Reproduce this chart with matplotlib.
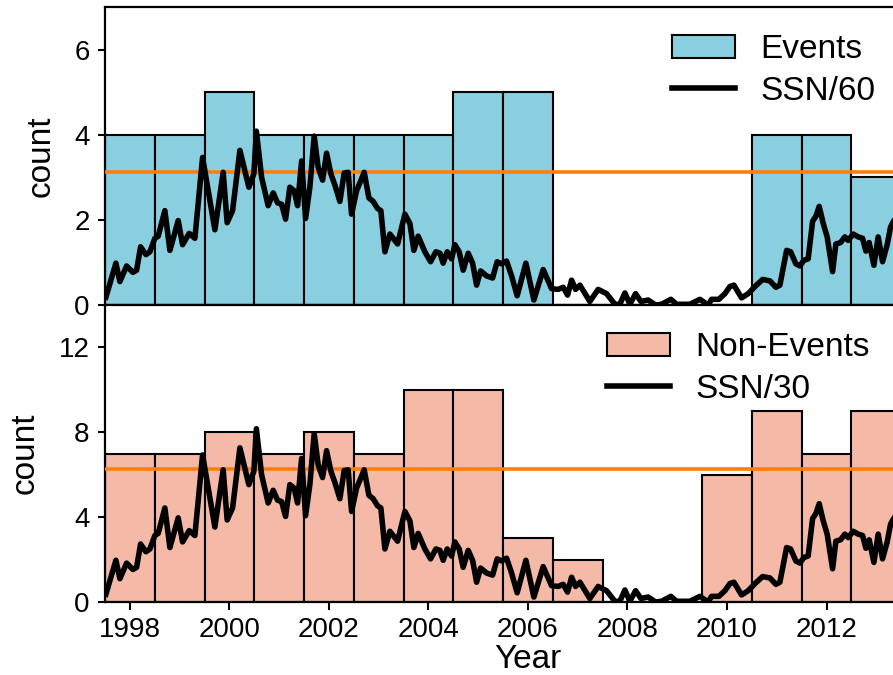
import numpy as np
import matplotlib
matplotlib.use("Agg")
import matplotlib.pyplot as plt

plt.rcParams['font.family'] = ['Liberation Sans', 'DejaVu Sans']

# Yearly counts
years = [1998, 1999, 2000, 2001, 2002, 2003, 2004, 2005, 2006, 2007,
         2008, 2009, 2010, 2011, 2012, 2013]
events = [4, 4, 5, 4, 4, 4, 4, 5, 5, 0, 0, 0, 0, 4, 4, 3]
non_events = [7, 7, 8, 7, 8, 7, 10, 10, 3, 2, 0, 0, 6, 9, 7, 9]

# Monthly sunspot number (time in decimal years)
ssn_time = [
    1997.518, 1997.719, 1997.799, 1997.934, 1998.060, 1998.135, 1998.215,
    1998.322, 1998.402, 1998.502, 1998.569, 1998.703, 1998.804, 1998.971,
    1999.059, 1999.192, 1999.306, 1999.461, 1999.708, 1999.875, 1999.955,
    2000.064, 2000.211, 2000.391, 2000.492, 2000.542, 2000.647, 2000.779,
    2000.880, 2000.968, 2001.049, 2001.129, 2001.215, 2001.302, 2001.370,
    2001.451, 2001.531, 2001.617, 2001.704, 2001.784, 2001.873, 2001.953,
    2002.039, 2002.120, 2002.220, 2002.307, 2002.387, 2002.455, 2002.556,
    2002.709, 2002.803, 2002.889, 2002.978, 2003.044, 2003.125, 2003.225,
    2003.380, 2003.527, 2003.627, 2003.707, 2003.794, 2003.928, 2004.043,
    2004.150, 2004.230, 2004.296, 2004.377, 2004.465, 2004.531, 2004.618,
    2004.698, 2004.799, 2004.887, 2004.968, 2005.048, 2005.168, 2005.289,
    2005.381, 2005.470, 2005.570, 2005.671, 2005.783, 2005.958, 2006.119,
    2006.306, 2006.475, 2006.607, 2006.708, 2006.796, 2006.877, 2006.957,
    2007.043, 2007.244, 2007.411, 2007.580, 2007.747, 2007.847, 2007.948,
    2008.048, 2008.163, 2008.269, 2008.416, 2008.565, 2008.685, 2008.872,
    2008.987, 2009.254, 2009.455, 2009.622, 2009.690, 2009.837, 2009.958,
    2010.058, 2010.139, 2010.293, 2010.426, 2010.561, 2010.716, 2010.862,
    2010.983, 2011.063, 2011.198, 2011.278, 2011.384, 2011.465, 2011.545,
    2011.631, 2011.720, 2011.786, 2011.853, 2011.933, 2012.013, 2012.122,
    2012.188, 2012.282, 2012.369, 2012.435, 2012.536, 2012.636, 2012.725,
    2012.791, 2012.857, 2012.952, 2013.038, 2013.126, 2013.219, 2013.287,
    2013.339, 2013.430,
]
ssn = [
    11, 59, 33, 55, 46, 49, 82,
    71, 75, 94, 97, 133, 77, 119,
    85, 101, 94, 208, 106, 187, 116,
    133, 218, 166, 185, 245, 180, 140,
    158, 144, 142, 121, 166, 161, 140,
    203, 122, 166, 238, 194, 176, 214,
    185, 169, 146, 186, 187, 128, 161,
    187, 151, 146, 136, 133, 75, 100,
    86, 128, 115, 77, 97, 75, 61,
    75, 73, 59, 75, 65, 85, 75,
    49, 73, 59, 28, 48, 41, 38,
    61, 58, 62, 41, 13, 59, 7,
    50, 23, 22, 25, 14, 35, 22,
    28, 5, 22, 16, 1, 1, 17,
    1, 16, 5, 7, 0, 1, 8,
    1, 1, 8, 0, 8, 8, 16,
    26, 28, 10, 16, 26, 36, 34,
    25, 28, 77, 75, 58, 55, 63,
    65, 118, 125, 139, 115, 96, 47,
    86, 88, 96, 91, 100, 96, 94,
    76, 88, 56, 96, 61, 85, 110,
    117, 126,
]

ssn_time = np.array(ssn_time)
ssn = np.array(ssn, dtype=float)

fig = plt.figure(figsize=(8.93, 6.75), dpi=100)
W, H = 893.0, 675.0
x_left, x_right = 1997.5, 2014.5
px_per_year = 49.76
ax_left_px = 105
ax_w_px = (x_right - x_left) * px_per_year
ax_top = fig.add_axes([ax_left_px / W, 370 / H, ax_w_px / W, 298 / H])
ax_bot = fig.add_axes([ax_left_px / W, 73 / H, ax_w_px / W, 297 / H], sharex=ax_top)

blue = '#89cfe0'
salmon = '#f4b9a7'
orange = '#ff7f0e'

TICK_FS = 20
LABEL_FS = 24

panels = [
    (ax_top, events, blue, 'Events', 60, 'SSN/60', 7, [0, 2, 4, 6], 672, 34),
    (ax_bot, non_events, salmon, 'Non-Events', 30, 'SSN/30', 14, [0, 4, 8, 12], 607, 332),
]

for ax, counts, color, lab, scale, ssn_lab, ymax, yt, leg_x, leg_y in panels:
    bars = ax.bar(years, counts, width=1.0, color=color, edgecolor='black',
                  linewidth=1.5, label=lab, zorder=2)
    ax.axhline(np.mean(counts), color=orange, linewidth=2.6, zorder=3)
    line, = ax.plot(ssn_time, ssn / scale, color='black', linewidth=4.0,
                    label=ssn_lab, zorder=4)
    ax.set_ylim(0, ymax)
    ax.set_yticks(yt)
    ax.set_ylabel('count', fontsize=LABEL_FS, labelpad=13)
    for s in ax.spines.values():
        s.set_linewidth(1.6)
    ax.tick_params(axis='y', direction='out', length=5, width=1.5,
                   labelsize=TICK_FS, pad=6)
    ax.legend(handles=[bars, line], frameon=False, fontsize=LABEL_FS,
              handlelength=1.9, handletextpad=0.75, labelspacing=0.33,
              borderpad=0, borderaxespad=0, loc='upper left',
              bbox_to_anchor=(leg_x / W, 1 - leg_y / H),
              bbox_transform=fig.transFigure)

ax_top.set_xlim(x_left, x_right)
ax_top.tick_params(axis='x', bottom=False, labelbottom=False)
ax_bot.set_xticks([1998, 2000, 2002, 2004, 2006, 2008, 2010, 2012])
ax_bot.tick_params(axis='x', direction='out', length=6, width=1.5,
                   labelsize=TICK_FS, pad=5)
ax_bot.set_xlabel('Year', fontsize=LABEL_FS, labelpad=0.5)

fig.savefig('out.png', dpi=100)
